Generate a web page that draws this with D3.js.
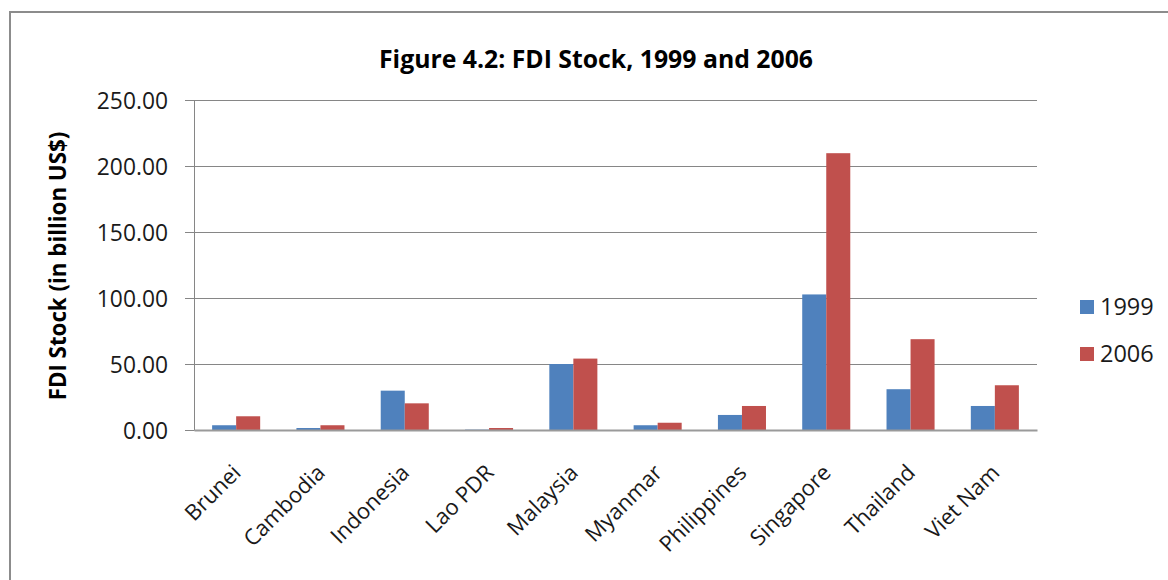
<!DOCTYPE html>
<html>
<head>
<meta charset="utf-8">
<style>
body {
  margin: 0;
  background: #fff;
}
.frame {
  fill: none;
  stroke: #8c8c8c;
  stroke-width: 2;
}
.grid line {
  stroke: #868686;
  stroke-width: 1;
}
.axis text {
  font-family: "Open Sans", sans-serif;
  fill: #1a1a1a;
}
.title, .ylabel {
  font-family: "Open Sans", sans-serif;
  font-weight: bold;
  fill: #000;
}
.legend text {
  font-family: "Open Sans", sans-serif;
  fill: #1a1a1a;
}
</style>
</head>
<body>
<svg width="1168" height="580"></svg>
<script src="https://d3js.org/d3.v7.min.js"></script>
<script>
  // data (billion US$)
  var countries = ["Brunei", "Cambodia", "Indonesia", "Lao PDR", "Malaysia",
                   "Myanmar", "Philippines", "Singapore", "Thailand", "Viet Nam"];
  var years = ["1999", "2006"];
  var fdi1999 = [3.6, 1.5, 29.8, 0.3, 50.0, 3.6, 11.4, 102.7, 30.9, 18.2];
  var fdi2006 = [10.4, 3.6, 20.2, 1.5, 54.1, 5.5, 18.2, 209.7, 68.8, 33.9];
  var yTicks = [0, 50, 100, 150, 200, 250];
  var colors = ["#4f81bd", "#c0504d"];

  var svg = d3.select("svg"),
      margin = {top: 100, left: 194},
      width = 843,
      height = 330;

  // outer chart border (runs off the right and bottom of the picture)
  svg.append("rect")
    .attr("class", "frame")
    .attr("x", 10).attr("y", 12)
    .attr("width", 1300).attr("height", 700);

  svg.append("text")
    .attr("class", "title")
    .attr("x", 596).attr("y", 68)
    .attr("text-anchor", "middle")
    .style("font-size", "24.8px")
    .text("Figure 4.2: FDI Stock, 1999 and 2006");

  var x = d3.scaleBand()
    .domain(countries)
    .range([0, width])
    .paddingInner(0.43)
    .paddingOuter(0.215);

  var xSub = d3.scaleBand()
    .domain(years)
    .range([0, x.bandwidth()]);

  var y = d3.scaleLinear()
    .domain([0, 250])
    .range([height, 0]);

  var g = svg.append("g")
    .attr("transform", "translate(" + margin.left + "," + margin.top + ")");

  // horizontal gridlines
  g.append("g")
    .attr("class", "grid")
    .selectAll("line")
    .data(yTicks.slice(1))
    .enter().append("line")
    .attr("x1", 0).attr("x2", width)
    .attr("y1", function(d) { return y(d) + 0.5; })
    .attr("y2", function(d) { return y(d) + 0.5; });

  // y axis
  var gy = g.append("g")
    .attr("class", "axis axis--y")
    .call(d3.axisLeft(y)
      .tickValues(yTicks)
      .tickSize(9)
      .tickPadding(17)
      .tickFormat(d3.format(".2f")));
  gy.selectAll("line, path").attr("stroke", "#868686");
  gy.selectAll("text").style("font-size", "22.8px").attr("dy", "0.36em");

  // bars
  var rows = countries.map(function(c, i) {
    return {country: c, values: [fdi1999[i], fdi2006[i]]};
  });

  var groups = g.selectAll(".gbar")
    .data(rows)
    .enter().append("g")
    .attr("class", "gbar")
    .attr("transform", function(d) { return "translate(" + x(d.country) + ",0)"; });

  groups.selectAll("rect")
    .data(function(d) { return d.values.map(function(v, k) { return {year: years[k], v: v, k: k}; }); })
    .enter().append("rect")
    .attr("x", function(d) { return xSub(d.year); })
    .attr("width", xSub.bandwidth())
    .attr("y", function(d) { return y(d.v); })
    .attr("height", function(d) { return height - y(d.v); })
    .attr("fill", function(d) { return colors[d.k]; });

  // x axis
  var gx = g.append("g")
    .attr("class", "axis axis--x")
    .attr("transform", "translate(0," + height + ")")
    .call(d3.axisBottom(x).tickSize(0));
  gx.select("path").attr("stroke", "#9a9a9a").attr("stroke-width", 2);
  gx.selectAll("text")
    .style("font-size", "22px")
    .style("text-anchor", "end")
    .attr("y", 0).attr("dy", 0)
    .attr("transform", "translate(6,44) rotate(-45)");

  // y axis title
  svg.append("text")
    .attr("class", "ylabel")
    .attr("transform", "translate(66,266) rotate(-90)")
    .attr("text-anchor", "middle")
    .style("font-size", "22.3px")
    .text("FDI Stock (in billion US$)");

  // legend
  var legend = svg.append("g")
    .attr("class", "legend")
    .selectAll("g")
    .data(years)
    .enter().append("g")
    .attr("transform", function(d, i) { return "translate(1080," + (300 + i * 47) + ")"; });

  legend.append("rect")
    .attr("width", 14).attr("height", 14)
    .attr("fill", function(d, i) { return colors[i]; });

  legend.append("text")
    .attr("x", 20).attr("y", 15)
    .style("font-size", "23.5px")
    .text(function(d) { return d; });
</script>
</body>
</html>
